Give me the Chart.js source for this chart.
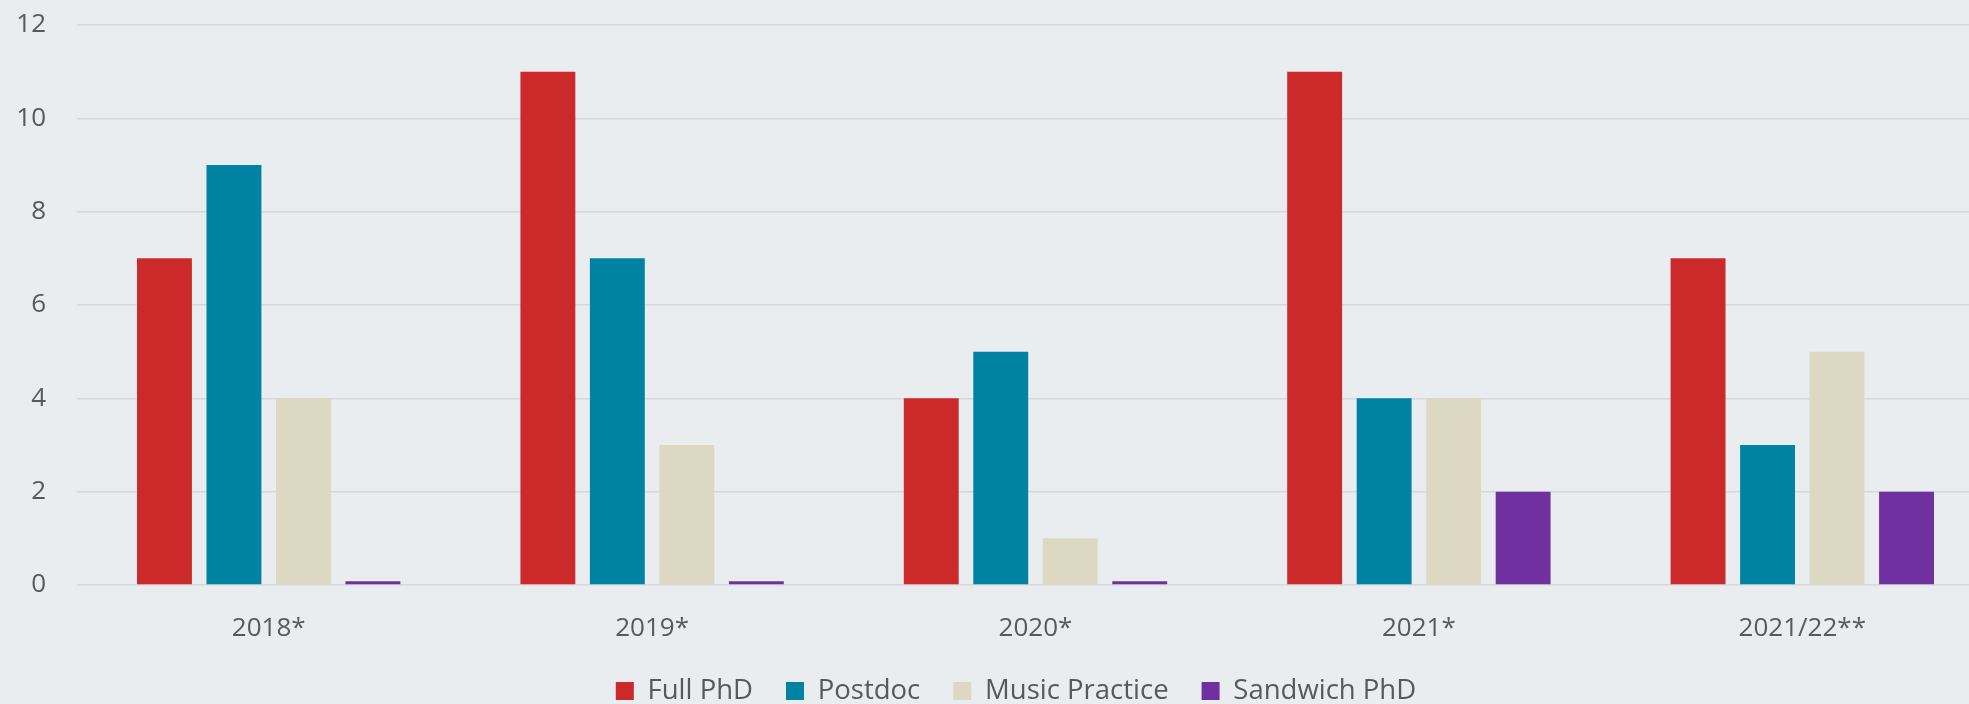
<!DOCTYPE html>
<html>
<head>
<meta charset="utf-8">
<script src="https://cdn.jsdelivr.net/npm/chart.js@4.4.0/dist/chart.umd.min.js"></script>
<style>
  html, body { margin: 0; padding: 0; background: #E9EDF0; overflow: hidden; }
  #wrap { position: absolute; left: 0; top: 0; width: 1994px; height: 704px; }
</style>
</head>
<body>
<div id="wrap"><canvas id="grafico"></canvas></div>
<script>
const categorias = ['2018*', '2019*', '2020*', '2021*', '2021/22**'];
const fullPhd = [7, 11, 4, 11, 7];
const postdoc = [9, 7, 5, 4, 3];
const musicPractice = [4, 3, 1, 4, 5];
const sandwichPhd = [0.08, 0.08, 0.08, 2, 2];
const yMax = 12;
const yStep = 2;

const textColor = '#595959';
const fonte = "'Open Sans', 'Noto Sans', sans-serif";
const legendaFonte = 27.5;
const legendaPad = 33;

// legenda centrada em x=1016, itens em y=691 (como no original)
const posLegenda = {
    id: 'posLegenda',
    afterLayout(chart) {
        const lg = chart.legend;
        const w = lg.right - lg.left;
        const h = lg.bottom - lg.top;
        lg.left = 1016 - w / 2;
        lg.right = lg.left + w;
        lg.top = 691 - legendaPad - legendaFonte / 2;
        lg.bottom = lg.top + h;
    }
};

const ctx = document.getElementById('grafico').getContext('2d');
new Chart(ctx, {
    type: 'bar',
    data: {
        labels: categorias,
        datasets: [
            { label: 'Full PhD', data: fullPhd, backgroundColor: '#CC292B' },
            { label: 'Postdoc', data: postdoc, backgroundColor: '#0083A3' },
            { label: 'Music Practice', data: musicPractice, backgroundColor: '#DDD8C2' },
            { label: 'Sandwich PhD', data: sandwichPhd, backgroundColor: '#7030A0' }
        ]
    },
    plugins: [posLegenda],
    options: {
        responsive: true,
        maintainAspectRatio: false,
        animation: false,
        categoryPercentage: 0.725,
        barPercentage: 0.79,
        layout: { padding: { left: 0, right: 0, top: 25, bottom: -30.7 } },
        plugins: {
            tooltip: { enabled: false },
            legend: {
                display: true,
                position: 'bottom',
                labels: {
                    boxWidth: 18,
                    boxHeight: 18,
                    padding: legendaPad,
                    color: textColor,
                    font: { family: fonte, size: legendaFonte }
                }
            }
        },
        scales: {
            x: {
                grid: { display: false },
                border: { display: false },
                ticks: {
                    color: textColor,
                    padding: 20,
                    maxRotation: 0,
                    font: { family: fonte, size: 26 }
                }
            },
            y: {
                min: 0,
                max: yMax,
                afterFit: function (scale) {
                    scale.width = 77;
                    scale.paddingTop = 0;
                    scale.paddingBottom = 0;
                },
                grid: { color: '#D6D7D9', lineWidth: 1.5, drawTicks: false },
                border: { display: false },
                ticks: {
                    stepSize: yStep,
                    color: textColor,
                    padding: 31,
                    font: { family: fonte, size: 26 }
                }
            }
        }
    }
});
</script>
</body>
</html>
